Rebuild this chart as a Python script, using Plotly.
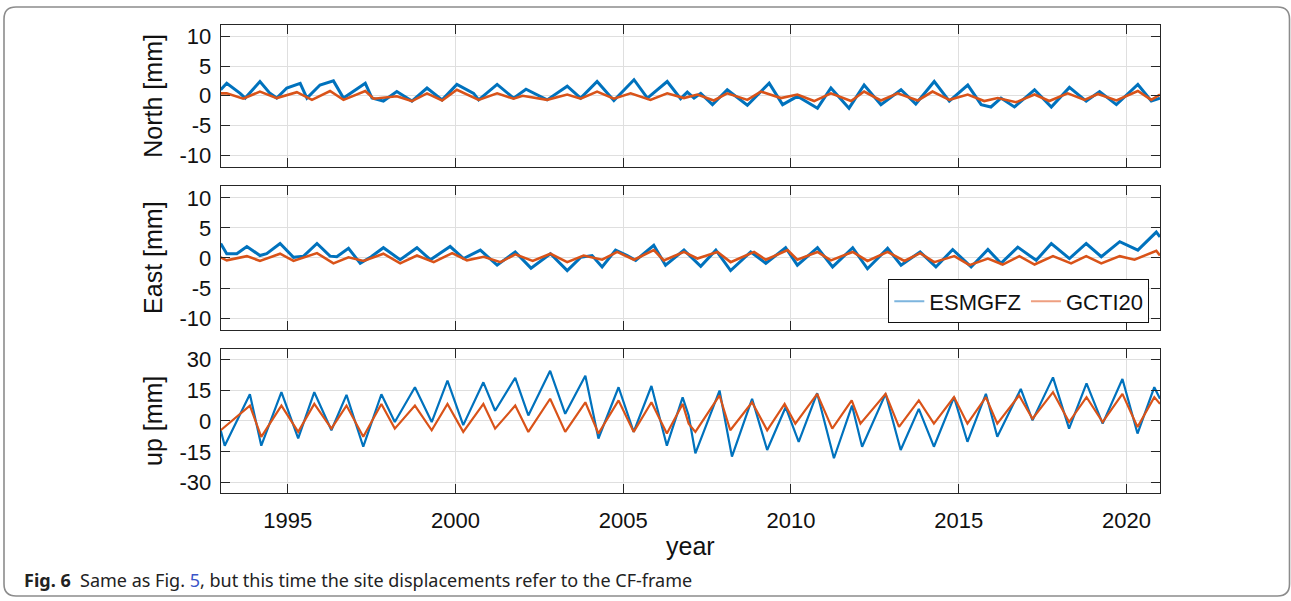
import plotly.graph_objects as go

# ---------------- data ----------------
north_esm_t = [1993.00, 1993.18, 1993.58, 1993.73, 1994.17, 1994.47, 1994.67, 1994.97, 1995.37, 1995.57,
               1995.96, 1996.36, 1996.66, 1996.96, 1997.31, 1997.51, 1997.85, 1998.25, 1998.70, 1999.15,
               1999.60, 2000.04, 2000.54, 2000.69, 2001.24, 2001.73, 2002.10, 2002.73, 2003.33, 2003.73,
               2004.22, 2004.72, 2005.32, 2005.72, 2006.31, 2006.71, 2006.91, 2007.11, 2007.31, 2007.66,
               2008.10, 2008.70, 2009.35, 2009.75, 2010.19, 2010.79, 2011.19, 2011.73, 2012.18, 2012.68,
               2013.28, 2013.72, 2014.27, 2014.72, 2015.27, 2015.67, 2015.96, 2016.26, 2016.66, 2017.26,
               2017.76, 2018.30, 2018.80, 2019.20, 2019.70, 2020.34, 2020.74, 2021.00]
north_esm_v = [1.0, 2.1, 0.4, -0.4, 2.4, 0.4, -0.4, 1.3, 2.1, -0.4,
               1.8, 2.5, -0.4, 0.7, 2.1, -0.4, -0.9, 0.7, -0.9, 1.3,
               -0.7, 1.9, 0.4, -0.7, 1.9, -0.4, 1.1, -0.7, 1.6, -0.4,
               2.4, -0.8, 2.7, -0.4, 2.4, -0.5, 0.6, -0.4, 0.4, -1.5,
               1.0, -1.6, 2.1, -1.5, -0.1, -2.1, 1.3, -2.1, 1.8, -1.5,
               1.0, -1.4, 2.4, -0.9, 1.8, -1.5, -1.9, -0.4, -1.9, 1.0,
               -1.9, 1.4, -0.9, 0.7, -1.5, 1.9, -0.9, -0.4]

north_gct_t = [1993.00, 1993.18, 1993.67, 1994.17, 1994.67, 1995.27, 1995.72, 1996.26, 1996.66, 1997.31,
               1997.56, 1998.25, 1998.70, 1999.15, 1999.60, 2000.04, 2000.69, 2001.24, 2001.73, 2002.00,
               2002.73, 2003.33, 2003.73, 2004.22, 2004.72, 2005.22, 2005.81, 2006.31, 2006.81, 2007.21,
               2007.70, 2008.10, 2008.70, 2009.10, 2009.70, 2010.19, 2010.69, 2011.19, 2011.79, 2012.18,
               2012.68, 2013.18, 2013.78, 2014.22, 2014.72, 2015.27, 2015.76, 2016.16, 2016.71, 2017.26,
               2017.70, 2018.25, 2018.75, 2019.15, 2019.70, 2020.34, 2020.74, 2021.00]
north_gct_v = [0.4, 0.4, -0.5, 0.7, -0.4, 0.6, -0.7, 0.8, -0.7, 0.8,
               -0.5, -0.1, -0.9, 0.4, -0.8, 1.0, -0.7, 0.4, -0.5, 0.0,
               -0.7, 0.2, -0.5, 0.7, -0.5, 0.4, -0.7, 0.4, -0.4, 0.2,
               -0.8, 0.4, -0.7, 0.7, -0.4, 0.2, -0.9, 0.4, -0.9, 0.7,
               -0.8, 0.4, -0.8, 0.7, -0.7, 0.2, -0.9, -0.4, -1.1, 0.2,
               -0.9, 0.4, -0.7, 0.3, -0.8, 0.8, -0.7, 0.2]

east_esm_t = [1993.00, 1993.18, 1993.48, 1993.78, 1994.17, 1994.37, 1994.77, 1995.17, 1995.47, 1995.87,
              1996.26, 1996.46, 1996.81, 1997.16, 1997.46, 1997.85, 1998.35, 1998.85, 1999.25, 1999.84,
              2000.24, 2000.74, 2001.24, 2001.78, 2002.25, 2002.83, 2003.33, 2003.73, 2004.07, 2004.37,
              2004.77, 2005.12, 2005.37, 2005.91, 2006.26, 2006.81, 2007.31, 2007.76, 2008.20, 2008.80,
              2009.25, 2009.84, 2010.19, 2010.79, 2011.24, 2011.84, 2012.28, 2012.88, 2013.28, 2013.85,
              2014.32, 2014.82, 2015.37, 2015.87, 2016.26, 2016.76, 2017.31, 2017.76, 2018.30, 2018.80,
              2019.25, 2019.80, 2020.34, 2020.89, 2021.00]
east_esm_v = [2.4, 0.7, 0.7, 1.9, 0.4, 0.7, 2.4, 0.1, 0.3, 2.4,
              0.3, 0.2, 1.6, -0.9, 0.1, 1.7, -0.3, 1.7, -0.3, 1.9,
              -0.1, 1.3, -1.2, 1.0, -1.7, 0.7, -2.1, 0.1, 0.4, -1.5,
              1.3, 0.4, -0.4, 2.1, -1.2, 1.3, -1.4, 1.3, -2.1, 1.0,
              -0.9, 1.7, -1.2, 1.7, -1.5, 1.7, -1.8, 1.6, -1.2, 1.0,
              -1.5, 1.4, -1.5, 1.4, -0.9, 1.8, -0.4, 2.4, -0.1, 2.4,
              0.2, 2.7, 1.3, 4.3, 3.5]

east_gct_t = [1993.00, 1993.18, 1993.78, 1994.17, 1994.77, 1995.17, 1995.87, 1996.36, 1996.81, 1997.26,
              1997.85, 1998.35, 1998.85, 1999.35, 1999.90, 2000.34, 2000.84, 2001.34, 2001.78, 2002.30,
              2002.83, 2003.33, 2003.82, 2004.37, 2004.82, 2005.32, 2005.91, 2006.21, 2006.81, 2007.21,
              2007.81, 2008.20, 2008.90, 2009.25, 2009.90, 2010.19, 2010.79, 2011.19, 2011.84, 2012.28,
              2012.88, 2013.38, 2013.85, 2014.27, 2014.87, 2015.32, 2015.87, 2016.31, 2016.81, 2017.26,
              2017.81, 2018.35, 2018.80, 2019.25, 2019.80, 2020.24, 2020.89, 2021.00]
east_gct_v = [0.1, -0.4, 0.3, -0.5, 0.7, -0.5, 0.8, -0.9, 0.1, -0.5,
              0.7, -0.9, 0.4, -0.7, 0.8, -0.4, 0.2, -0.7, 0.6, -0.5,
              0.7, -0.7, 0.4, -0.3, 1.0, -0.3, 1.3, -0.4, 1.0, -0.1,
              1.0, -0.7, 1.0, -0.3, 1.3, -0.3, 1.0, -0.4, 1.0, -0.5,
              1.0, -0.5, 0.8, -0.7, 0.3, -1.2, -0.1, -1.1, 0.3, -1.1,
              0.3, -0.9, 0.3, -0.9, 0.3, -0.3, 1.2, 0.4]

up_esm_t = [1993.00, 1993.12, 1993.87, 1994.21, 1994.81, 1995.31, 1995.79, 1996.30, 1996.75, 1997.25,
            1997.79, 1998.19, 1998.79, 1999.29, 1999.76, 2000.23, 2000.83, 2001.18, 2001.78, 2002.17,
            2002.82, 2003.27, 2003.87, 2004.26, 2004.86, 2005.31, 2005.84, 2006.30, 2006.77, 2006.95,
            2007.15, 2007.87, 2008.24, 2008.84, 2009.29, 2009.84, 2010.23, 2010.78, 2011.28, 2011.82,
            2012.12, 2012.82, 2013.27, 2013.81, 2014.26, 2014.86, 2015.26, 2015.81, 2016.15, 2016.85,
            2017.20, 2017.81, 2018.29, 2018.81, 2019.29, 2019.88, 2020.33, 2020.83, 2021.00]
up_esm_v = [-4.5, -12.0, 13.0, -12.0, 14.0, -8.5, 14.0, -4.5, 12.7, -12.5,
            13.0, -0.5, 16.4, -0.5, 19.6, -2.0, 18.8, 5.0, 21.0, 2.7,
            24.4, 3.5, 22.0, -8.5, 16.4, -5.3, 17.0, -12.0, 11.5, 2.7,
            -15.7, 14.8, -17.3, 10.8, -14.1, 6.7, -10.1, 13.5, -18.1, 7.5,
            -12.5, 13.2, -14.1, 5.9, -12.5, 11.6, -10.1, 13.2, -7.7, 15.6,
            0.3, 21.2, -3.7, 18.3, -1.3, 20.4, -6.1, 16.4, 10.8]

up_gct_t = [1993.00, 1993.87, 1994.21, 1994.81, 1995.31, 1995.79, 1996.30, 1996.75, 1997.25, 1997.79,
            1998.19, 1998.79, 1999.29, 1999.76, 2000.23, 2000.83, 2001.18, 2001.78, 2002.17, 2002.82,
            2003.27, 2003.87, 2004.26, 2004.86, 2005.31, 2005.84, 2006.30, 2006.77, 2006.95, 2007.15,
            2007.87, 2008.19, 2008.84, 2009.29, 2009.81, 2010.13, 2010.78, 2011.23, 2011.81, 2012.07,
            2012.82, 2013.22, 2013.81, 2014.26, 2014.86, 2015.26, 2015.81, 2016.15, 2016.80, 2017.20,
            2017.81, 2018.29, 2018.81, 2019.29, 2019.88, 2020.33, 2020.83, 2021.00]
up_gct_v = [-4.5, 7.5, -7.7, 7.5, -5.3, 8.3, -3.7, 7.5, -7.7, 8.3,
            -3.7, 7.5, -4.5, 8.3, -5.3, 8.3, -3.7, 7.5, -5.3, 10.8,
            -5.3, 9.1, -6.1, 10.0, -5.3, 9.1, -6.1, 8.3, -1.3, -5.3,
            12.4, -4.5, 9.1, -4.5, 8.3, -1.3, 13.2, -3.7, 10.0, -1.3,
            13.2, -2.9, 10.0, -1.3, 11.6, -1.3, 11.6, -1.3, 12.4, 1.1,
            14.0, -0.5, 11.6, -0.5, 13.2, -2.9, 11.6, 8.3]

series_names = ["ESMGFZ", "GCTI20"]
panel_titles = ["North [mm]", "East [mm]", "up [mm]"]
x_tickvals = [1995, 2000, 2005, 2010, 2015, 2020]
x_ticktext = ["1995", "2000", "2005", "2010", "2015", "2020"]
ne_tickvals = [-10, -5, 0, 5, 10]
ne_ticktext = ["-10", "-5", "0", "5", "10"]
up_tickvals = [-30, -15, 0, 15, 30]
up_ticktext = ["-30", "-15", "0", "15", "30"]
x_title = "year"

# ---------------- styling ----------------
W, H = 1291, 601
BLUE = "#0072BD"
ORANGE = "#D95319"
AXC = "#262626"
GRID = "#dfdfdf"
TICKFONT = dict(family="Liberation Sans, Arial, sans-serif", size=22, color="#111111")

x0p, x1p = 220.7, 1160.0
panels_px = [(22.7, 166.0), (185.0, 330.3), (349.3, 494.3)]  # top, bottom in pixels
line_w = [(3.0, 2.6), (3.0, 2.6), (2.2, 2.2)]


def dom_y(top, bot):
    return [(H - bot) / H, (H - top) / H]


fig = go.Figure()

data_sets = [
    (north_esm_t, north_esm_v, north_gct_t, north_gct_v),
    (east_esm_t, east_esm_v, east_gct_t, east_gct_v),
    (up_esm_t, up_esm_v, up_gct_t, up_gct_v),
]
for i, (te, ve, tg, vg) in enumerate(data_sets):
    xa = "x" if i == 0 else f"x{i+1}"
    ya = "y" if i == 0 else f"y{i+1}"
    fig.add_trace(go.Scatter(x=te, y=ve, mode="lines", line=dict(color=BLUE, width=line_w[i][0]),
                             xaxis=xa, yaxis=ya, showlegend=False, name=series_names[0]))
    fig.add_trace(go.Scatter(x=tg, y=vg, mode="lines", line=dict(color=ORANGE, width=line_w[i][1]),
                             xaxis=xa, yaxis=ya, showlegend=False, name=series_names[1]))

# legend-only entries (lighter samples as in the reference legend)
fig.add_trace(go.Scatter(x=[None], y=[None], mode="lines", name=series_names[0],
                         line=dict(color="#7db5de", width=2), xaxis="x2", yaxis="y2"))
fig.add_trace(go.Scatter(x=[None], y=[None], mode="lines", name=series_names[1],
                         line=dict(color="#ee9f80", width=2), xaxis="x2", yaxis="y2"))

layout = dict(
    width=W, height=H,
    margin=dict(l=0, r=0, t=0, b=0),
    paper_bgcolor="white", plot_bgcolor="white",
    showlegend=True,
    legend=dict(orientation="h", x=1149.3 / W, y=(H - 323.5) / H, xanchor="right", yanchor="bottom",
                bgcolor="white", bordercolor="#111111", borderwidth=1,
                font=dict(family="Liberation Sans, Arial, sans-serif", size=22, color="#111111"),
                itemwidth=30, tracegroupgap=0),
)

yranges = [[-12, 12], [-12, 12], [-35, 35]]
yticks = [(ne_tickvals, ne_ticktext), (ne_tickvals, ne_ticktext), (up_tickvals, up_ticktext)]
for i, (top, bot) in enumerate(panels_px):
    sx = "" if i == 0 else str(i + 1)
    layout[f"xaxis{sx}"] = dict(
        domain=[x0p / W, x1p / W], range=[1993, 2021], anchor=f"y{sx}",
        showline=True, linecolor=AXC, linewidth=1, mirror="ticks",
        ticks="inside", ticklen=9, tickcolor=AXC, tickwidth=1,
        tickvals=x_tickvals, ticktext=x_ticktext,
        showticklabels=(i == 2), tickfont=TICKFONT, ticklabelstandoff=8,
        showgrid=True, gridcolor=GRID, gridwidth=1, zeroline=False,
    )
    layout[f"yaxis{sx}"] = dict(
        domain=dom_y(top, bot), range=yranges[i], anchor=f"x{sx}",
        showline=True, linecolor=AXC, linewidth=1, mirror="ticks",
        ticks="inside", ticklen=9, tickcolor=AXC, tickwidth=1,
        tickvals=yticks[i][0], ticktext=yticks[i][1], tickfont=TICKFONT,
        ticklabelstandoff=4,
        showgrid=True, gridcolor=GRID, gridwidth=1, zeroline=False,
    )

fig.update_layout(**layout)

annotations = []
for i, (top, bot) in enumerate(panels_px):
    annotations.append(dict(
        text=panel_titles[i], xref="paper", yref="paper",
        x=153 / W, y=(H - (top + bot) / 2) / H, xanchor="center", yanchor="middle",
        textangle=-90, showarrow=False,
        font=dict(family="Liberation Sans, Arial, sans-serif", size=25, color="#111111")))
annotations.append(dict(
    text=x_title, xref="paper", yref="paper", x=690 / W, y=(H - 548) / H,
    xanchor="center", yanchor="middle", showarrow=False,
    font=dict(family="Liberation Sans, Arial, sans-serif", size=25, color="#111111")))
annotations.append(dict(
    text="<b>Fig. 6</b>\u00a0\u00a0Same as Fig. <span style='color:#3a55c8'>5</span>, but this time the site displacements refer to the CF-frame",
    xref="paper", yref="paper", x=22 / W, y=(H - 582) / H, xanchor="left", yanchor="middle",
    showarrow=False, font=dict(family="Noto Sans, sans-serif", size=18, color="#222222")))
fig.update_layout(annotations=annotations)

# rounded frame around the figure
r = 12
L, T, R, B = 4, 5, 1289.5, 598
path = (f"M {L+r},{T} L {R-r},{T} Q {R},{T} {R},{T+r} L {R},{B-r} Q {R},{B} {R-r},{B} "
        f"L {L+r},{B} Q {L},{B} {L},{B-r} L {L},{T+r} Q {L},{T} {L+r},{T} Z")


def px_path(p):
    out = []
    for tok in p.split(" "):
        if "," in tok:
            a, b = tok.split(",")
            out.append(f"{float(a)/W:.6f},{(H-float(b))/H:.6f}")
        else:
            out.append(tok)
    return " ".join(out)


fig.add_shape(type="path", path=px_path(path), xref="paper", yref="paper",
              line=dict(color="#8c8c8c", width=1.6), layer="below")

fig.write_html("out.html")
